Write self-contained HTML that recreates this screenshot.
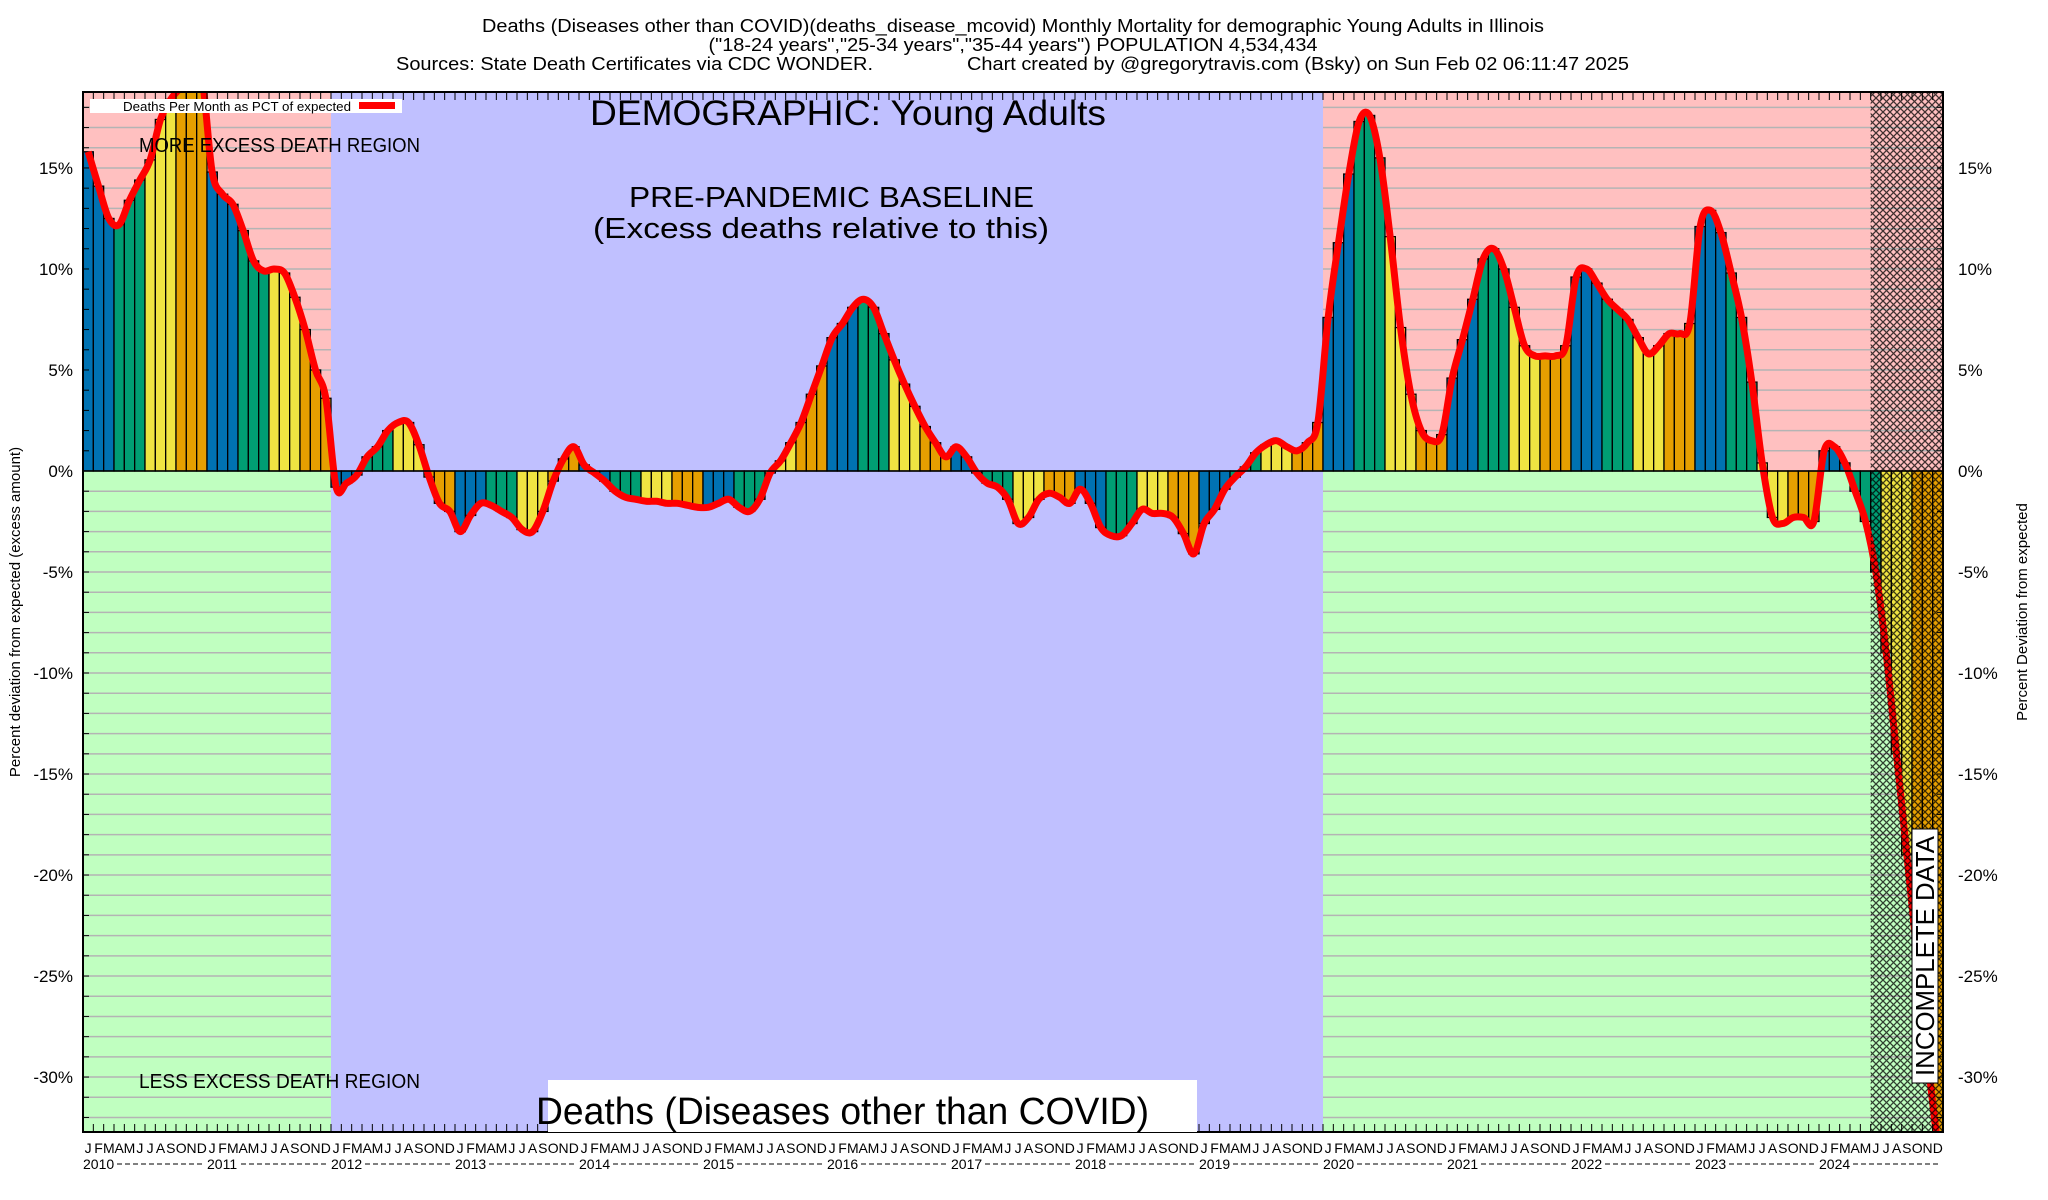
<!DOCTYPE html>
<html><head><meta charset="utf-8"><style>
html,body{margin:0;padding:0;background:#fff}
svg{display:block;font-family:"Liberation Sans",sans-serif}
</style></head><body>
<svg id="chart" width="2048" height="1200" viewBox="0 0 2048 1200" xmlns="http://www.w3.org/2000/svg">
<defs>
<pattern id="hatch" width="7" height="7" patternUnits="userSpaceOnUse">
<path d="M0,0 L7,7 M7,0 L0,7" stroke="#000" stroke-width="1.3" opacity="0.75"/>
</pattern>
<clipPath id="plotclip"><rect x="83" y="92" width="1860" height="1040"/></clipPath>
</defs>
<g id="bg"></g>
<g id="grid"></g>
<g id="bars" clip-path="url(#plotclip)"></g>
<path id="line" clip-path="url(#plotclip)" fill="none" stroke="#ff0000" stroke-width="7" stroke-linejoin="round"/>
<rect id="hatchrect" fill="url(#hatch)"/>
<g id="axes"></g>

<text x="1013" y="32" text-anchor="middle" font-size="18" textLength="1062" lengthAdjust="spacingAndGlyphs">Deaths (Diseases other than COVID)(deaths_disease_mcovid) Monthly Mortality for demographic Young Adults in Illinois</text>
<text x="1013" y="51" text-anchor="middle" font-size="18" textLength="609" lengthAdjust="spacingAndGlyphs">("18-24 years","25-34 years","35-44 years") POPULATION 4,534,434</text>
<text x="396" y="70" font-size="18" textLength="477" lengthAdjust="spacingAndGlyphs">Sources: State Death Certificates via CDC WONDER.</text>
<text x="967" y="70" font-size="18" textLength="662" lengthAdjust="spacingAndGlyphs">Chart created by @gregorytravis.com (Bsky) on Sun Feb 02 06:11:47 2025</text>

<text x="590" y="125" font-size="35" textLength="516" lengthAdjust="spacingAndGlyphs">DEMOGRAPHIC: Young Adults</text>
<text x="629" y="207" font-size="29" textLength="405" lengthAdjust="spacingAndGlyphs">PRE-PANDEMIC BASELINE</text>
<text x="593" y="238" font-size="29" textLength="456" lengthAdjust="spacingAndGlyphs">(Excess deaths relative to this)</text>
<text x="139" y="152" font-size="20" textLength="281" lengthAdjust="spacingAndGlyphs">MORE EXCESS DEATH REGION</text>
<text x="139" y="1088" font-size="20" textLength="281" lengthAdjust="spacingAndGlyphs">LESS EXCESS DEATH REGION</text>

<rect x="548" y="1080" width="649" height="52" fill="#fff"/>
<text x="536" y="1124" font-size="38" textLength="613" lengthAdjust="spacingAndGlyphs">Deaths (Diseases other than COVID)</text>

<g>
<rect x="90" y="99" width="312" height="14" fill="#fff"/>
<text x="123" y="111" font-size="13" textLength="228" lengthAdjust="spacingAndGlyphs">Deaths Per Month as PCT of expected</text>
<rect x="359" y="102" width="36" height="7" fill="#ff0000"/>
</g>

<g>
<rect x="1912" y="829" width="26" height="254" fill="#fff" stroke="#000" stroke-width="1"/>
<text transform="translate(1934,956) rotate(-90)" text-anchor="middle" font-size="26" textLength="240" lengthAdjust="spacingAndGlyphs">INCOMPLETE DATA</text>
</g>

<text transform="translate(20,612) rotate(-90)" text-anchor="middle" font-size="15">Percent deviation from expected (excess amount)</text>
<text transform="translate(2027,612) rotate(-90)" text-anchor="middle" font-size="15">Percent Deviation from expected</text>
</svg>
<script>
const yearLabels = ["2010","2011","2012","2013","2014","2015","2016","2017","2018","2019","2020","2021","2022","2023","2024"];
const monthLetters = ["J","F","M","A","M","J","J","A","S","O","N","D"];
const yTicks = [15,10,5,0,-5,-10,-15,-20,-25,-30];
const pct2010 = [15.8,14.1,12.5,12.2,13.4,14.4,15.4,17.4,18.4,19.0,19.5,19.5];
const pct2011 = [14.8,13.7,13.2,11.9,10.4,9.9,10.0,9.8,8.6,7.0,5.0,3.6];
const pct2012 = [-0.8,-0.6,-0.2,0.7,1.2,2.0,2.4,2.4,1.3,-0.3,-1.6,-2.0];
const pct2013 = [-3.0,-2.2,-1.6,-1.7,-2.0,-2.3,-2.9,-3.0,-2.0,-0.5,0.6,1.2];
const pct2014 = [0.3,-0.1,-0.5,-1.0,-1.3,-1.4,-1.5,-1.5,-1.6,-1.6,-1.7,-1.8];
const pct2015 = [-1.8,-1.6,-1.4,-1.8,-2.0,-1.4,-0.1,0.5,1.4,2.4,3.8,5.2];
const pct2016 = [6.6,7.3,8.1,8.5,8.1,6.8,5.5,4.3,3.2,2.2,1.4,0.7];
const pct2017 = [1.2,0.7,-0.1,-0.6,-0.8,-1.4,-2.6,-2.3,-1.4,-1.1,-1.3,-1.6];
const pct2018 = [-0.9,-1.6,-2.8,-3.2,-3.2,-2.6,-1.9,-2.1,-2.1,-2.3,-3.1,-4.1];
const pct2019 = [-2.6,-1.9,-0.9,-0.3,0.2,0.9,1.3,1.5,1.2,1.0,1.4,2.4];
const pct2020 = [7.6,11.3,14.7,17.3,17.6,15.5,11.6,7.1,3.8,2.0,1.5,1.8];
const pct2021 = [4.6,6.5,8.5,10.5,11.0,10.0,8.1,6.2,5.7,5.7,5.7,6.2];
const pct2022 = [9.6,10.0,9.3,8.5,8.0,7.5,6.6,5.8,6.2,6.8,6.8,7.3];
const pct2023 = [12.1,12.9,11.8,9.8,7.6,4.4,0.4,-2.3,-2.6,-2.3,-2.3,-2.5];
const pct2024 = [1.0,1.2,0.4,-1.0,-2.5,-5.0,-9.0,-14.0,-19.0,-24.0,-29.0,-33.5];
const values = [].concat(pct2010,pct2011,pct2012,pct2013,pct2014,pct2015,pct2016,pct2017,pct2018,pct2019,pct2020,pct2021,pct2022,pct2023,pct2024);

const NS = "http://www.w3.org/2000/svg";
const L = 83, R = 1943, T = 92, B = 1132;
const nMonths = yearLabels.length * 12;
const bw = (R - L) / nMonths;
const yMax = 18.76, yMin = -32.72;
function xs(i){ return L + i * bw; }
function ys(v){ return T + (yMax - v) / (yMax - yMin) * (B - T); }
function mk(tag, attrs, parent){
  const e = document.createElementNS(NS, tag);
  for (const k in attrs) e.setAttribute(k, attrs[k]);
  parent.appendChild(e);
  return e;
}
const bg = document.getElementById('bg');
const y0 = ys(0);
function region(i0, i1, name){
  const pink = mk('rect',{x:xs(i0),y:T,width:xs(i1)-xs(i0),height:y0-T,fill:'#ffc0c0'},bg);
  
  
  const green = mk('rect',{x:xs(i0),y:y0,width:xs(i1)-xs(i0),height:B-y0,fill:'#c0ffc0'},bg);
  
  
}
region(0,24,'early');
region(120,nMonths,'pandemic');
const base = mk('rect',{x:xs(24),y:T,width:xs(120)-xs(24),height:B-T,fill:'#c0c0ff'},bg);



const grid = document.getElementById('grid');
for (let p = -32; p <= 18; p++){
  if (p === 0) continue;
  const y = ys(p);
  [[0,24],[120,nMonths]].forEach(function(seg){
    const g = mk('line',{x1:xs(seg[0]),x2:xs(seg[1]),y1:y,y2:y,stroke:'#b4b4b4','stroke-width':1.5},grid);
    
    
  });
}

const barsG = document.getElementById('bars');
const colors = ['#0072b2','#009e73','#f0e442','#e69f00'];
values.forEach(function(v, i){
  const m = i % 12;
  const yv = ys(v);
  const r = mk('rect',{x:xs(i),y:Math.min(yv,y0),width:bw,height:Math.abs(yv-y0),fill:colors[Math.floor(m/3)],stroke:'#000','stroke-width':1.3},barsG);
  
  
});

const hr = document.getElementById('hatchrect');
hr.setAttribute('x', xs(173)); hr.setAttribute('y', T);
hr.setAttribute('width', R - xs(173)); hr.setAttribute('height', B - T);

const pts = values.map(function(v,i){ return [xs(i)+bw/2, ys(v)]; });
let d = 'M' + pts[0][0] + ',' + pts[0][1];
for (let i = 0; i < pts.length-1; i++){
  const p0 = pts[Math.max(0,i-1)], p1 = pts[i], p2 = pts[i+1], p3 = pts[Math.min(pts.length-1,i+2)];
  const c1x = p1[0] + (p2[0]-p0[0])/6, c1y = p1[1] + (p2[1]-p0[1])/6;
  const c2x = p2[0] - (p3[0]-p1[0])/6, c2y = p2[1] - (p3[1]-p1[1])/6;
  d += ' C' + c1x + ',' + c1y + ' ' + c2x + ',' + c2y + ' ' + p2[0] + ',' + p2[1];
}
document.getElementById('line').setAttribute('d', d);

const ax = document.getElementById('axes');
mk('rect',{x:L,y:T,width:R-L,height:B-T,fill:'none',stroke:'#000','stroke-width':2},ax);
mk('line',{x1:L,x2:R,y1:y0,y2:y0,stroke:'#000','stroke-width':1.5},ax);
for (let i = 1; i < nMonths; i++){
  const x = xs(i);
  mk('line',{x1:x,x2:x,y1:T,y2:T+8,stroke:'#000','stroke-width':1},ax);
  mk('line',{x1:x,x2:x,y1:B,y2:B-8,stroke:'#000','stroke-width':1},ax);
}
for (let p = -32; p <= 18; p++){
  const y = ys(p);
  mk('line',{x1:L,x2:L+6,y1:y,y2:y,stroke:'#000','stroke-width':1},ax);
  mk('line',{x1:R,x2:R-6,y1:y,y2:y,stroke:'#000','stroke-width':1},ax);
}
yTicks.forEach(function(t){
  const y = ys(t);
  const a = mk('text',{x:73,y:y+6,'text-anchor':'end','font-size':17},ax);
  a.textContent = t + '%';
  
  
  const b = mk('text',{x:1958,y:y+6,'font-size':17},ax);
  b.textContent = t + '%';
  
  
});
for (let i = 0; i < nMonths; i++){
  const t = mk('text',{x:xs(i)+bw/2,y:1153,'text-anchor':'middle','font-size':14},ax);
  t.textContent = monthLetters[i%12];
  
  
}
yearLabels.forEach(function(yr, k){
  const x = xs(k*12);
  const t = mk('text',{x:x,y:1169,'font-size':14},ax);
  t.textContent = yr;
  
  
  mk('line',{x1:x+34,x2:xs(k*12+12)-2,y1:1164,y2:1164,stroke:'#000','stroke-width':1,'stroke-dasharray':'5,3'},ax);
});
</script>
</body></html>
